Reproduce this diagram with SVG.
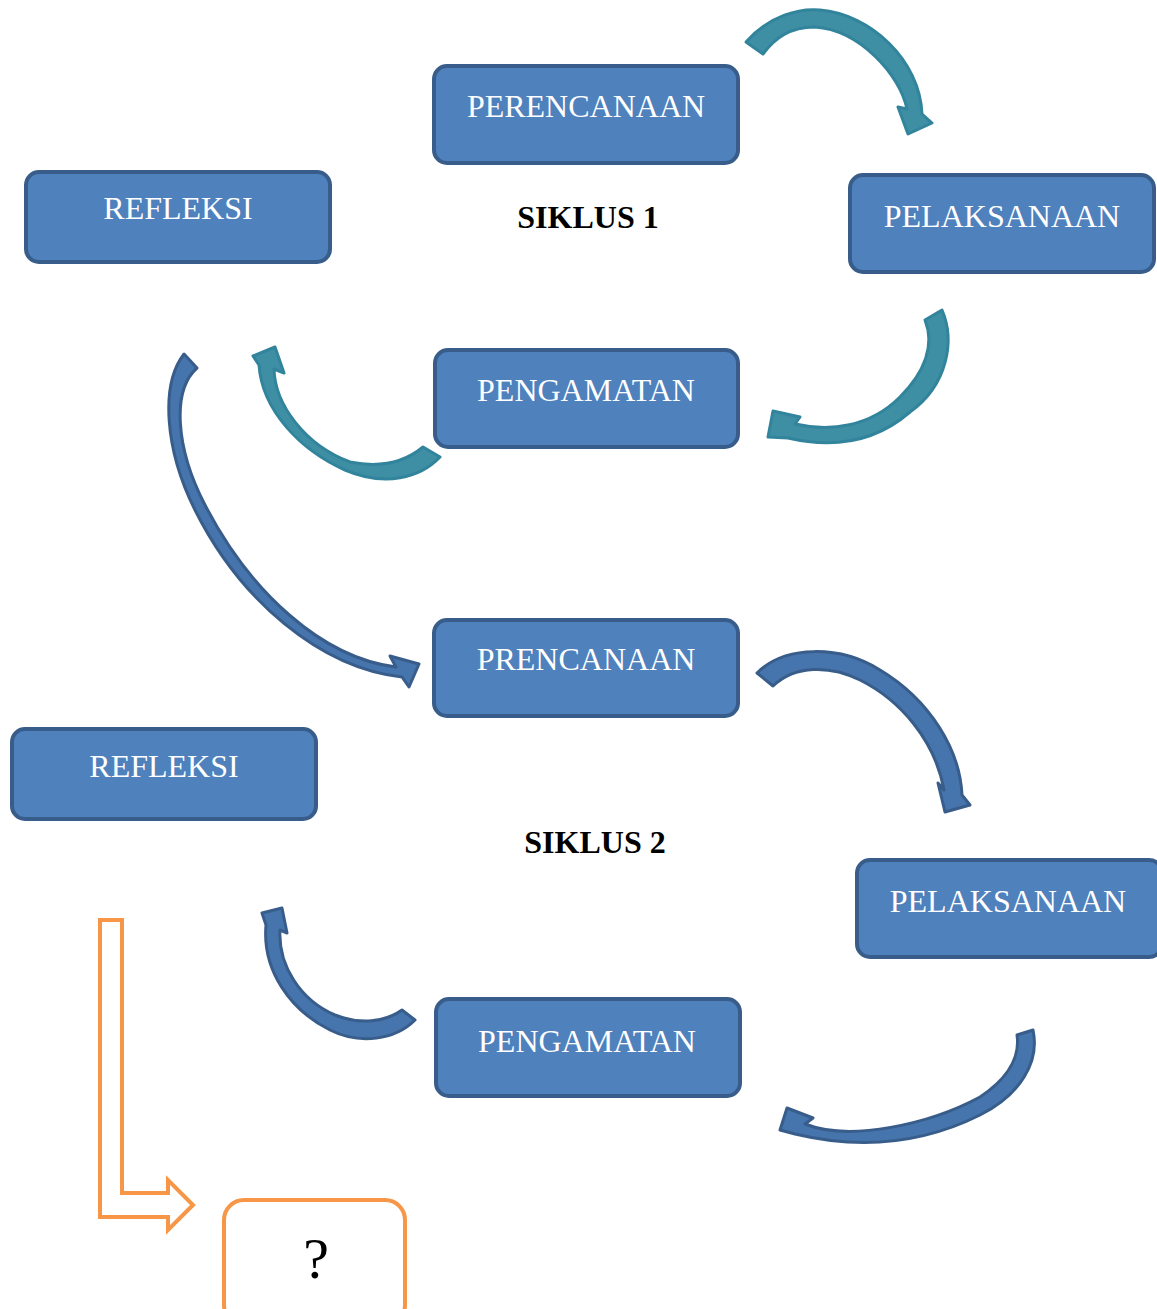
<svg xmlns="http://www.w3.org/2000/svg" width="1157" height="1309" viewBox="0 0 1157 1309">
<style>
.box{fill:#4F81BD;stroke:#385D8A;stroke-width:4}
.lbl{font-family:"Liberation Serif","Times New Roman",serif;font-size:32px;fill:#FFFFFF;text-anchor:middle}
.title{font-family:"Liberation Serif","Times New Roman",serif;font-size:32px;font-weight:bold;fill:#000000;text-anchor:middle}
.teal{fill:#3F8FA4;stroke:#31849B;stroke-width:3;stroke-linejoin:round}
.blue{fill:#4674AC;stroke:#385D8A;stroke-width:3;stroke-linejoin:round}
.orange{fill:#FFFFFF;stroke:#F79646;stroke-width:4}
</style>
<rect width="1157" height="1309" fill="#FFFFFF"/>
<g id="n-perencanaan"><rect class="box" x="434" y="66" width="304" height="97" rx="13"/><text class="lbl" x="586" y="117">PERENCANAAN</text></g>
<g id="n-refleksi1"><rect class="box" x="26" y="172" width="304" height="90" rx="13"/><text class="lbl" x="178" y="219">REFLEKSI</text></g>
<g id="n-pelaksanaan1"><rect class="box" x="850" y="175" width="304" height="97" rx="13"/><text class="lbl" x="1002" y="227">PELAKSANAAN</text></g>
<g id="n-pengamatan1"><rect class="box" x="435" y="350" width="303" height="97" rx="13"/><text class="lbl" x="586" y="401">PENGAMATAN</text></g>
<g id="n-siklus1"><text class="title" x="588" y="228">SIKLUS 1</text></g>
<g id="n-prencanaan"><rect class="box" x="434" y="620" width="304" height="96" rx="13"/><text class="lbl" x="586" y="670">PRENCANAAN</text></g>
<g id="n-refleksi2"><rect class="box" x="12" y="729" width="304" height="90" rx="13"/><text class="lbl" x="164" y="777">REFLEKSI</text></g>
<g id="n-siklus2"><text class="title" x="595" y="853">SIKLUS 2</text></g>
<g id="n-pelaksanaan2"><rect class="box" x="857" y="860" width="305" height="97" rx="13"/><text class="lbl" x="1008" y="912">PELAKSANAAN</text></g>
<g id="n-pengamatan2"><rect class="box" x="436" y="999" width="304" height="97" rx="13"/><text class="lbl" x="587" y="1052">PENGAMATAN</text></g>
<g id="n-question"><rect x="224" y="1200" width="181" height="125" rx="20" fill="#FFFFFF" stroke="#F79646" stroke-width="4"/><text x="316" y="1278" font-family="Liberation Serif, Times New Roman, serif" font-size="58" text-anchor="middle" fill="#000000">?</text></g>
<g id="connectors">
<path class="teal" d="M746,42 C770,15 800,8 820,10 C870,14 920,60 922,114 L932,123 L908,134 L898,107 L907,109 C900,75 860,30 815,27 C790,27 775,38 763,54 Z"/>
<path class="teal" d="M942,310 C955,340 948,385 910,412 C880,438 840,450 788,438 L768,437 L773,411 L800,417 L795,424 C830,432 870,427 900,397 C925,372 935,345 925,320 Z"/>
<path class="teal" d="M440,457 C420,478 385,487 345,470 C300,450 262,410 259,365 L253,356 L275,347 L284,373 L274,369 C275,405 305,445 350,462 C380,468 405,462 423,447 Z"/>
<path class="blue" d="M184,354 C160,385 165,450 195,510 C240,600 320,668 402,677 L409,687 L419,664 L390,656 L396,667 C322,658 250,592 205,505 C175,447 172,390 197,368 Z"/>
<path class="blue" d="M757,673 C785,645 840,645 880,670 C930,700 960,750 962,795 L970,805 L945,812 L938,783 L944,790 C935,740 900,700 860,680 C830,665 795,665 773,686 Z"/>
<path class="blue" d="M1033,1030 C1040,1062 1020,1095 980,1115 C930,1140 870,1152 795,1134 L780,1130 L787,1108 L813,1118 L805,1124 C850,1142 930,1124 980,1097 C1010,1077 1020,1055 1017,1035 Z"/>
<path class="blue" d="M415,1020 C395,1040 360,1045 330,1030 C290,1010 262,970 266,925 L262,913 L282,908 L287,933 L280,930 C278,965 300,1000 335,1015 C360,1025 385,1022 402,1010 Z"/>
<path class="orange" d="M100,920 L122,920 L122,1193 L168,1193 L168,1180 L193,1205 L168,1230 L168,1217 L100,1217 Z"/>
</g>
</svg>
